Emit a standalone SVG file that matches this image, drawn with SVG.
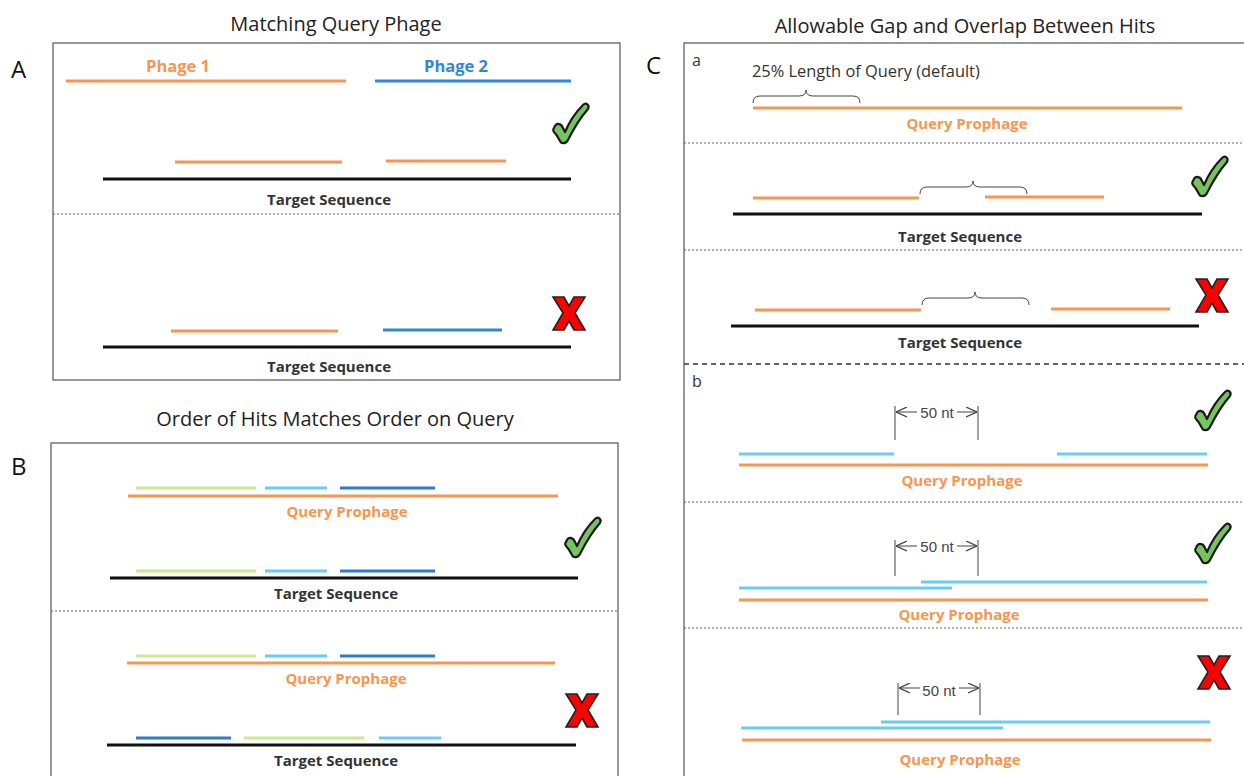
<svg xmlns="http://www.w3.org/2000/svg" width="1244" height="776" viewBox="0 0 1244 776">
  <style>
    .title { font-family: "Open Sans", "Liberation Sans", sans-serif; font-size: 20px; fill: #222; text-anchor: middle; }
    .panel { font-family: "Open Sans", "Liberation Sans", sans-serif; font-size: 24px; fill: #111; }
    .sub { font-family: "Open Sans", "Liberation Sans", sans-serif; font-size: 16px; fill: #333; }
    .lbl { font-family: "Open Sans", "Liberation Sans", sans-serif; font-size: 15px; font-weight: bold; text-anchor: middle; }
    .tgt { fill: #333; }
    .org { fill: #f7964f; }
    .blu { fill: #2f87d8; }
    .dim { font-family: "Liberation Sans", Arial, sans-serif; font-size: 15px; fill: #444; text-anchor: middle; }
    .box { fill: none; stroke: #555; stroke-width: 1.2; }
    .sep { stroke: #666; stroke-width: 1; stroke-dasharray: 2 2; }
    .sepb { stroke: #333; stroke-width: 1.6; stroke-dasharray: 5 4; }
    .o { stroke: #f7964f; stroke-width: 3; }
    .k { stroke: #111; stroke-width: 3; }
    .b2 { stroke: #2f87d8; stroke-width: 3; }
    .lb { stroke: #66cdf6; stroke-width: 3; }
    .db { stroke: #2a7dd1; stroke-width: 3; }
    .gr { stroke: #c8eb8e; stroke-width: 3; }
    .br { fill: none; stroke: #444; stroke-width: 1; }
    .dl { stroke: #444; stroke-width: 1; }
  </style>
  <defs>
    <marker id="ah" viewBox="0 0 10 10" refX="10" refY="5" markerWidth="11" markerHeight="11" markerUnits="userSpaceOnUse" orient="auto-start-reverse">
      <path d="M0,0.5 L10,5 L0,9.5" fill="none" stroke="#444" stroke-width="1.2"/>
    </marker>
    <g id="check">
      <path d="M2,25 C4,19 9,20 11,25 L13,29 C18,17 25,8 31,2 C34,-1 38,2 36,6 C28,15 21,27 16,37 C14,41 9,41 8,38 C6,34 4,31 2,29 C1,28 1,26 2,25 Z" fill="#77c45e" stroke="#1a1a1a" stroke-width="2.2" stroke-linejoin="round"/>
    </g>
    <g id="cross">
      <polygon points="0,0 11,0 16,9 21,0 32,0 22,16 32,33 21,33 16,24 11,33 0,33 10,16" fill="#ff0000" stroke="#222" stroke-width="1.6" stroke-linejoin="miter"/>
    </g>
    <path id="brace" d="M0,13 Q0,6 7,6 L46,6 Q53,6 53,0 Q53,6 60,6 L100,6 Q107,6 107,13" class="br"/>
  </defs>

  <!-- Panel A -->
  <g id="panelA">
    <text class="title" x="336" y="31">Matching Query Phage</text>
    <text class="panel" x="11" y="78">A</text>
    <rect class="box" x="53" y="43" width="567" height="337"/>
    <text class="lbl org" x="178" y="72" style="font-size:16.5px">Phage 1</text>
    <text class="lbl blu" x="456" y="72" style="font-size:16.5px">Phage 2</text>
    <line class="o" x1="66" y1="81" x2="346" y2="81"/>
    <line class="b2" x1="375" y1="81" x2="571" y2="81"/>
    <use href="#check" x="552" y="103"/>
    <line class="o" x1="175" y1="162" x2="342" y2="162"/>
    <line class="o" x1="386" y1="161" x2="506" y2="161"/>
    <line class="k" x1="103" y1="179" x2="571" y2="179"/>
    <text class="lbl tgt" x="329" y="205">Target Sequence</text>
    <line class="sep" x1="53" y1="214" x2="620" y2="214"/>
    <use href="#cross" x="553" y="297"/>
    <line class="o" x1="171" y1="331" x2="338" y2="331"/>
    <line class="b2" x1="383" y1="330" x2="502" y2="330"/>
    <line class="k" x1="103" y1="347" x2="571" y2="347"/>
    <text class="lbl tgt" x="329" y="372">Target Sequence</text>
  </g>

  <!-- Panel B -->
  <g id="panelB">
    <text class="title" x="335" y="426">Order of Hits Matches Order on Query</text>
    <text class="panel" x="11" y="475">B</text>
    <rect class="box" x="51" y="443" width="567" height="350"/>
    <line class="gr" x1="136" y1="488" x2="256" y2="488"/>
    <line class="lb" x1="265" y1="488" x2="327" y2="488"/>
    <line class="db" x1="340" y1="488" x2="435" y2="488"/>
    <line class="o" x1="128" y1="496" x2="558" y2="496"/>
    <text class="lbl org" x="347" y="517">Query Prophage</text>
    <use href="#check" x="564" y="517"/>
    <line class="gr" x1="136" y1="571" x2="256" y2="571"/>
    <line class="lb" x1="265" y1="571" x2="327" y2="571"/>
    <line class="db" x1="340" y1="571" x2="435" y2="571"/>
    <line class="k" x1="110" y1="578" x2="578" y2="578"/>
    <text class="lbl tgt" x="336" y="599">Target Sequence</text>
    <line class="sep" x1="51" y1="611" x2="618" y2="611"/>
    <line class="gr" x1="136" y1="656" x2="256" y2="656"/>
    <line class="lb" x1="265" y1="656" x2="327" y2="656"/>
    <line class="db" x1="340" y1="656" x2="435" y2="656"/>
    <line class="o" x1="127" y1="663" x2="555" y2="663"/>
    <text class="lbl org" x="346" y="684">Query Prophage</text>
    <use href="#cross" x="566" y="694"/>
    <line class="db" x1="136" y1="738" x2="231" y2="738"/>
    <line class="gr" x1="244" y1="738" x2="364" y2="738"/>
    <line class="lb" x1="379" y1="738" x2="441" y2="738"/>
    <line class="k" x1="107" y1="745" x2="576" y2="745"/>
    <text class="lbl tgt" x="336" y="766">Target Sequence</text>
  </g>

  <!-- Panel C -->
  <g id="panelC">
    <text class="title" x="965" y="33">Allowable Gap and Overlap Between Hits</text>
    <text class="panel" x="646" y="74">C</text>
    <rect class="box" x="684" y="43" width="580" height="750"/>

    <!-- a: gap / overlap by query length -->
    <text class="sub" x="692" y="66">a</text>
    <text class="sub" x="752" y="77" style="font-size:16.4px">25% Length of Query (default)</text>
    <use href="#brace" x="753" y="90"/>
    <line class="o" x1="753" y1="108" x2="1182" y2="108"/>
    <text class="lbl org" x="967" y="129">Query Prophage</text>
    <line class="sep" x1="684" y1="143" x2="1244" y2="143"/>

    <line class="o" x1="753" y1="198" x2="919" y2="198"/>
    <use href="#brace" x="920" y="181"/>
    <line class="o" x1="985" y1="197" x2="1104" y2="197"/>
    <line class="k" x1="733" y1="214" x2="1202" y2="214"/>
    <text class="lbl tgt" x="960" y="242">Target Sequence</text>
    <use href="#check" x="1191" y="156"/>
    <line class="sep" x1="684" y1="250" x2="1244" y2="250"/>

    <line class="o" x1="755" y1="310" x2="921" y2="310"/>
    <use href="#brace" x="922" y="292"/>
    <line class="o" x1="1051" y1="309" x2="1170" y2="309"/>
    <line class="k" x1="731" y1="326" x2="1199" y2="326"/>
    <text class="lbl tgt" x="960" y="348">Target Sequence</text>
    <use href="#cross" x="1196" y="279"/>
    <line class="sepb" x1="684" y1="364" x2="1244" y2="364"/>

    <!-- b: fixed 50 nt tolerance -->
    <text class="sub" x="692" y="387">b</text>
    <line class="dl" x1="895" y1="406" x2="895" y2="440"/>
    <line class="dl" x1="978" y1="406" x2="978" y2="440"/>
    <line class="dl" x1="917" y1="412" x2="896" y2="412" marker-end="url(#ah)"/>
    <line class="dl" x1="957" y1="412" x2="977" y2="412" marker-end="url(#ah)"/>
    <text class="dim" x="937" y="418">50 nt</text>
    <line class="lb" x1="739" y1="454" x2="894" y2="454"/>
    <line class="lb" x1="1057" y1="454" x2="1207" y2="454"/>
    <line class="o" x1="739" y1="465" x2="1208" y2="465"/>
    <text class="lbl org" x="962" y="486">Query Prophage</text>
    <use href="#check" x="1194" y="390"/>
    <line class="sep" x1="684" y1="502" x2="1244" y2="502"/>

    <line class="dl" x1="895" y1="540" x2="895" y2="576"/>
    <line class="dl" x1="978" y1="540" x2="978" y2="576"/>
    <line class="dl" x1="917" y1="546" x2="896" y2="546" marker-end="url(#ah)"/>
    <line class="dl" x1="957" y1="546" x2="977" y2="546" marker-end="url(#ah)"/>
    <text class="dim" x="937" y="552">50 nt</text>
    <line class="lb" x1="921" y1="582" x2="1207" y2="582"/>
    <line class="lb" x1="739" y1="588" x2="952" y2="588"/>
    <line class="o" x1="739" y1="600" x2="1208" y2="600"/>
    <text class="lbl org" x="959" y="620">Query Prophage</text>
    <use href="#check" x="1194" y="523"/>
    <line class="sep" x1="684" y1="628" x2="1244" y2="628"/>

    <line class="dl" x1="898" y1="683" x2="898" y2="715"/>
    <line class="dl" x1="980" y1="683" x2="980" y2="715"/>
    <line class="dl" x1="920" y1="688" x2="899" y2="688" marker-end="url(#ah)"/>
    <line class="dl" x1="959" y1="688" x2="979" y2="688" marker-end="url(#ah)"/>
    <text class="dim" x="939" y="696">50 nt</text>
    <line class="lb" x1="881" y1="722" x2="1210" y2="722"/>
    <line class="lb" x1="741" y1="728" x2="1003" y2="728"/>
    <line class="o" x1="742" y1="740" x2="1211" y2="740"/>
    <text class="lbl org" x="960" y="765">Query Prophage</text>
    <use href="#cross" x="1198" y="656"/>
  </g>
</svg>
